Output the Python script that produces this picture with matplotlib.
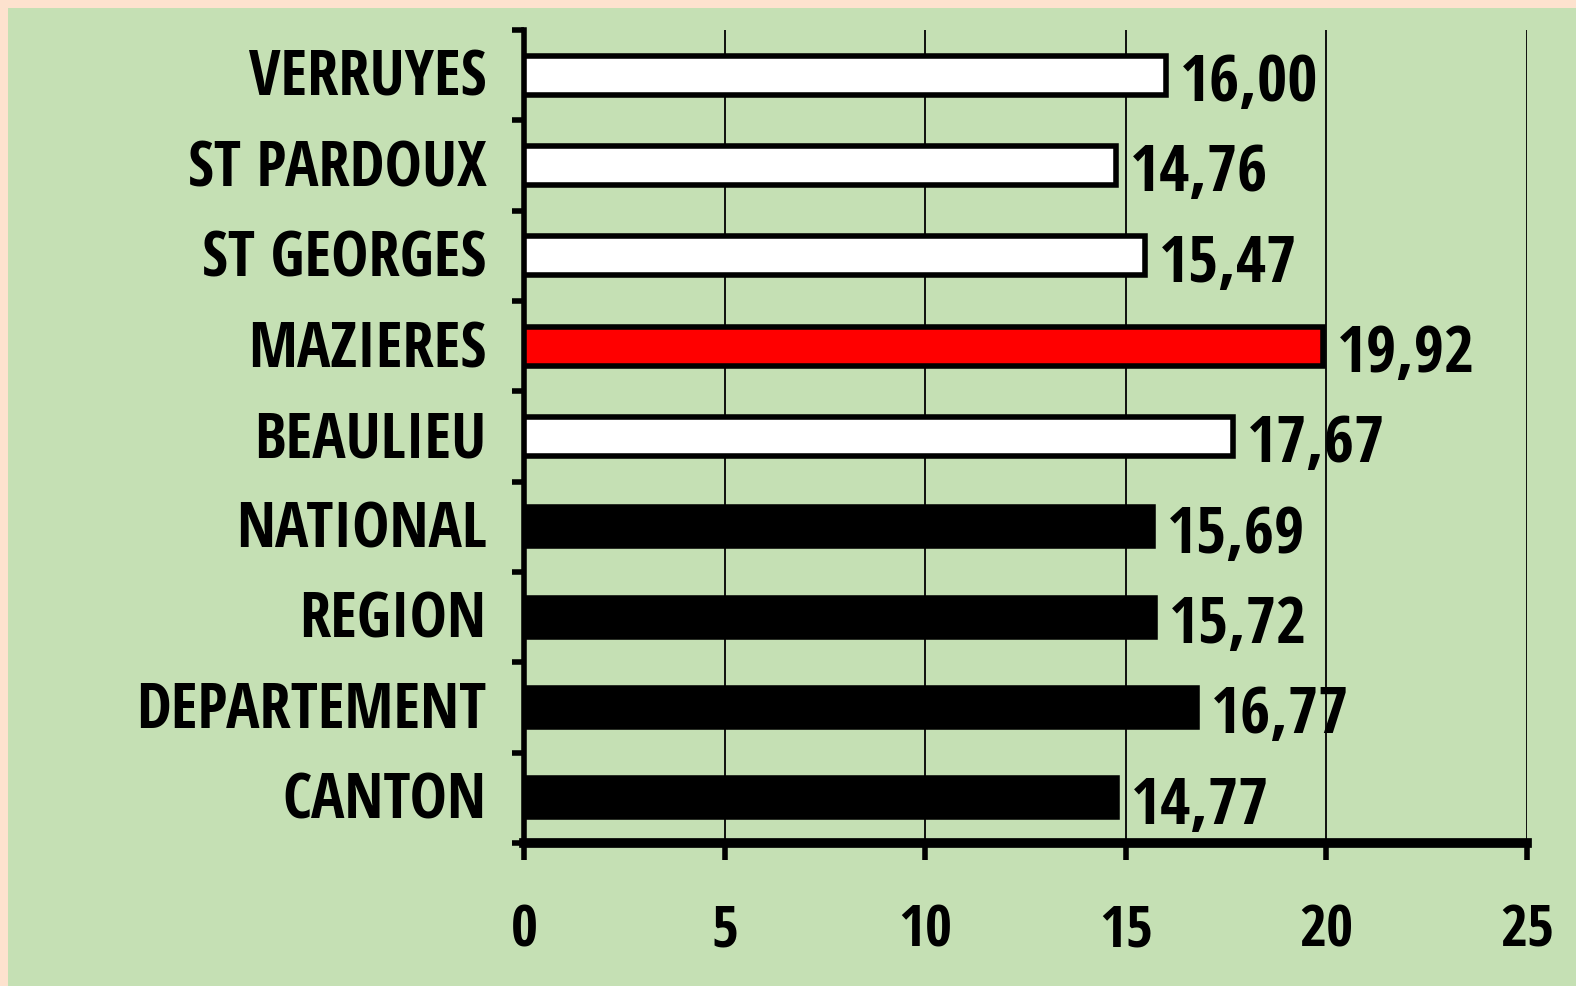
import matplotlib
matplotlib.use("Agg")
import matplotlib.pyplot as plt
from matplotlib import font_manager as fm
from matplotlib.patches import Rectangle
import matplotlib.transforms as mtransforms

categories = ["VERRUYES", "ST PARDOUX", "ST GEORGES", "MAZIERES", "BEAULIEU",
              "NATIONAL", "REGION", "DEPARTEMENT", "CANTON"]
values = [16.00, 14.76, 15.47, 19.92, 17.67, 15.69, 15.72, 16.77, 14.77]
value_labels = ["16,00", "14,76", "15,47", "19,92", "17,67", "15,69", "15,72", "16,77", "14,77"]
fill_colors = ["white", "white", "white", "#FF0000", "white",
               "black", "black", "black", "black"]
x_ticks = [0, 5, 10, 15, 20, 25]


def is_bold(f):
    w = f.weight
    if isinstance(w, str):
        return w in ("bold", "heavy", "black", "extra bold", "demibold", "semibold")
    return w >= 600


def is_cond(f):
    s = f.stretch
    n = (f.name + " " + f.fname).lower()
    if "narrow" in n or "condensed" in n:
        return True
    if isinstance(s, str):
        return "condensed" in s
    return s < 500


cands = [f for f in fm.fontManager.ttflist if is_cond(f) and is_bold(f)]
pref = ["liberation sans narrow", "liberationsansnarrow", "opensans", "open sans",
        "roboto", "noto", "dejavu"]
cands.sort(key=lambda f: min([i for i, p in enumerate(pref) if p in (f.name + f.fname).lower()] + [99]))
if cands:
    FONT = dict(fname=cands[0].fname)
    chosen = cands[0].fname
else:
    FONT = dict(family="Liberation Sans", weight="bold")
    chosen = "none"
is_dejavu = "dejavu" in chosen.lower()
K = 0.9 if is_dejavu else 1.0


def fp(size):
    return fm.FontProperties(size=size * K, **FONT)


W, H = 1576, 987
fig = plt.figure(figsize=(W / 100, H / 100), dpi=100)
fig.patch.set_facecolor("#FDE2CE")
fig.add_artist(Rectangle((8 / W, 0), 1, (H - 9) / H, transform=fig.transFigure,
                         facecolor="#C5E0B4", edgecolor="none", zorder=0))

left, right, top, bottom = 524, 1527, 31, 844
ax = fig.add_axes([left / W, 1 - bottom / H, (right - left) / W, (bottom - top) / H])
ax.set_facecolor("#C5E0B4")

y = list(range(len(categories)))
ax.barh(y, values, height=0.43, color=fill_colors, edgecolor="black", linewidth=4, zorder=3)
ax.set_ylim(len(categories) - 0.5, -0.5)
ax.set_xlim(0, 25)

for yi, v, lab in zip(y, values, value_labels):
    ax.annotate(lab, (v, yi), xytext=(10, -6), textcoords="offset points",
                ha="left", va="center", fontproperties=fp(47),
                color="black", zorder=4)

ax.set_yticks(y)
ax.set_yticklabels(categories, fontproperties=fp(45))
ax.set_yticks([i - 0.5 for i in range(len(categories) + 1)], minor=True)
ax.tick_params(axis="y", which="major", length=0, pad=27)
ax.tick_params(axis="y", which="minor", length=9, width=4, direction="out")
shift = mtransforms.ScaledTranslation(0, 3 / 72, fig.dpi_scale_trans)
for lbl in ax.get_yticklabels():
    lbl.set_transform(lbl.get_transform() + shift)

ax.set_xticks(x_ticks)
ax.set_xticklabels([str(t) for t in x_ticks], fontproperties=fp(42))
ax.tick_params(axis="x", length=12, width=4, direction="out", pad=30)

ax.grid(axis="x", color="black", linewidth=1.3, zorder=1)
ax.set_axisbelow(True)
for s in ["top", "right"]:
    ax.spines[s].set_visible(False)
ax.spines["left"].set_linewidth(4)
ax.spines["bottom"].set_linewidth(7)

fig.savefig("out.png", dpi=100, facecolor=fig.get_facecolor())
